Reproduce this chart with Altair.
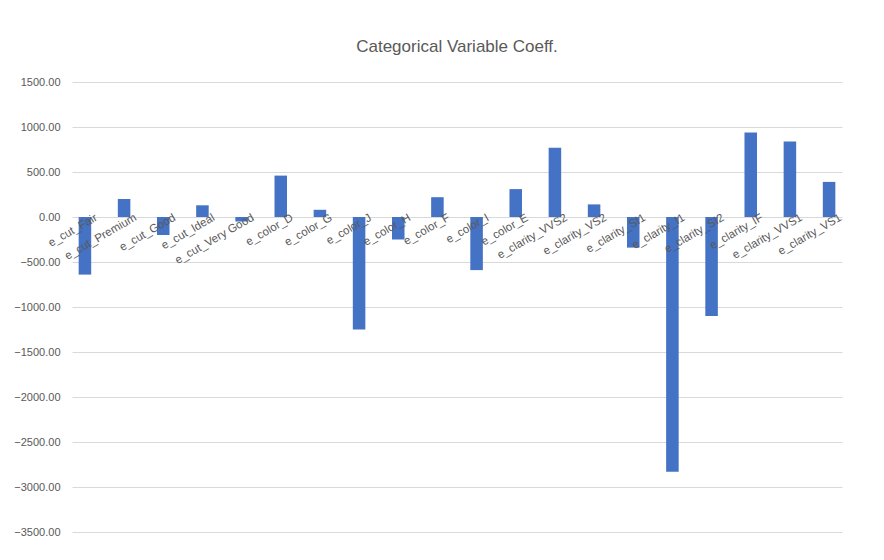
import altair as alt
import pandas as pd

categories = [
    "e_cut_Fair", "e_cut_Premium", "e_cut_Good", "e_cut_Ideal", "e_cut_Very Good",
    "e_color_D", "e_color_G", "e_color_J", "e_color_H", "e_color_F",
    "e_color_I", "e_color_E", "e_clarity_VVS2", "e_clarity_VS2", "e_clarity_SI1",
    "e_clarity_I1", "e_clarity_SI2", "e_clarity_IF", "e_clarity_VVS1", "e_clarity_VS1",
]
coeffs = [
    -640, 200, -200, 130, -50,
    460, 80, -1250, -250, 220,
    -590, 310, 770, 140, -340,
    -2830, -1100, 940, 840, 390,
]
y_ticks = list(range(-3500, 1501, 500))

df = pd.DataFrame({"name": categories, "coeff": coeffs, "zero": 0})

x = alt.X("name:N", sort=categories, axis=None,
          scale=alt.Scale(paddingInner=0.68, paddingOuter=0.17))
y_scale = alt.Scale(domain=[-3500, 1500], nice=False)

bars = alt.Chart(df).mark_bar(color="#4472C4").encode(
    x=x,
    y=alt.Y("coeff:Q", scale=y_scale, title=None,
            axis=alt.Axis(values=y_ticks, format=".2f", domain=False, ticks=False,
                          gridColor="#D9D9D9", labelColor="#595959",
                          labelFontSize=11, labelPadding=12,
                          labelFont="Liberation Sans")),
)

labels = alt.Chart(df).mark_text(
    angle=330, align="right", baseline="middle", dx=10, dy=6,
    fontSize=11.5, color="#595959", font="Liberation Sans",
).encode(x=x, y=alt.Y("zero:Q", scale=y_scale), text="name:N")

chart = (
    alt.layer(bars, labels)
    .properties(
        width=770, height=450,
        padding={"top": 30, "left": 5, "right": 5, "bottom": 5},
        title=alt.TitleParams("Categorical Variable Coeff.", fontSize=17,
                              fontWeight="normal", color="#595959",
                              font="Liberation Sans", offset=20),
    )
    .configure_view(stroke=None)
)

chart.save("out.html", embed_options={"renderer": "svg", "actions": False})
